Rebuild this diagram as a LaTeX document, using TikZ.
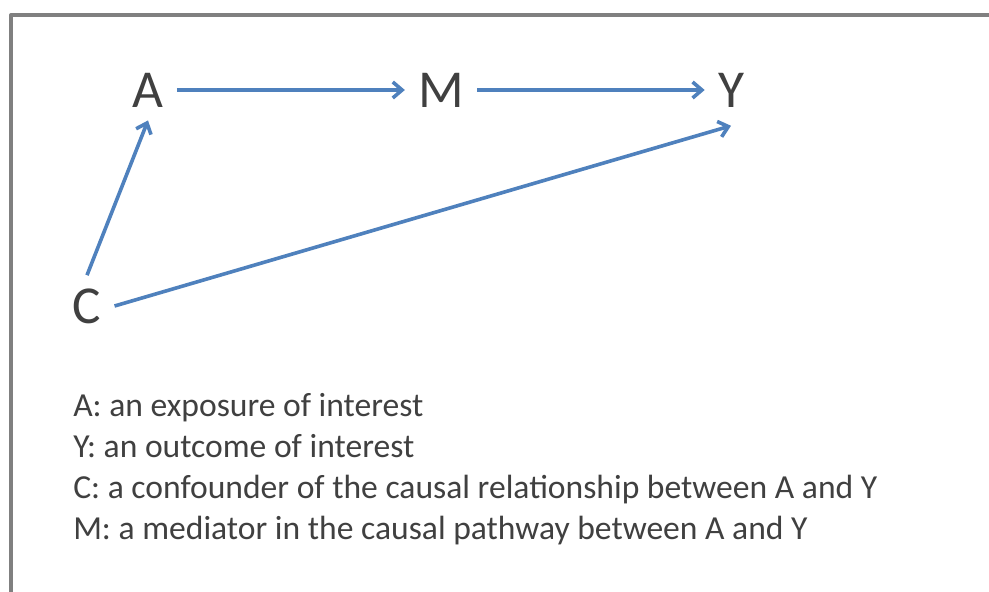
\documentclass[tikz,border=0pt]{standalone}
\usepackage{fontspec}
\setmainfont{Carlito}
\usetikzlibrary{arrows.meta}
\definecolor{arrowblue}{HTML}{4F81BD}
\definecolor{textgray}{HTML}{404040}
\definecolor{framegray}{HTML}{808080}
\tikzset{
  var/.style={text=textgray, inner sep=0pt, outer sep=10pt, font=\fontsize{40}{48}\selectfont},
  defn/.style={text=textgray, inner sep=0pt, anchor=base west, font=\fontsize{25.2}{30.75}\selectfont},
  arr/.style={draw=arrowblue, line width=2.7pt, -{Straight Barb[length=7pt,width=12pt]}}
}
\begin{document}
\begin{tikzpicture}[x=0.75pt,y=-0.75pt, line join=round]
	\useasboundingbox (0,0) rectangle (989,592);
	\fill[white] (0,0) rectangle (989,592);
	% frame
	\draw[framegray, line width=3pt] (11,592) -- (11,15) -- (989,15);
	% variables
	\node[var] (A) at (148,90) {A};
	\node[var] (M) at (441,90) {M};
	\node[var] (Y) at (731,90) {Y};
	\node[var] (C) at (87,306) {C};
	% paths
	\draw[arr] (A) -- (M);
	\draw[arr] (M) -- (Y);
	\draw[arr] (C.north) -- (A.south);
	\draw[arr] (C.east) -- ([yshift=-4pt]Y.south);
	% legend
	\node[defn] (defA) at (73,416) {A: an exposure of interest};
	\node[defn] (defY) at (73,457) {Y: an outcome of interest};
	\node[defn] (defC) at (73,498) {C: a confounder of the causal relationship between A and Y};
	\node[defn] (defM) at (73,539) {M: a mediator in the causal pathway between A and Y};
\end{tikzpicture}
\end{document}
